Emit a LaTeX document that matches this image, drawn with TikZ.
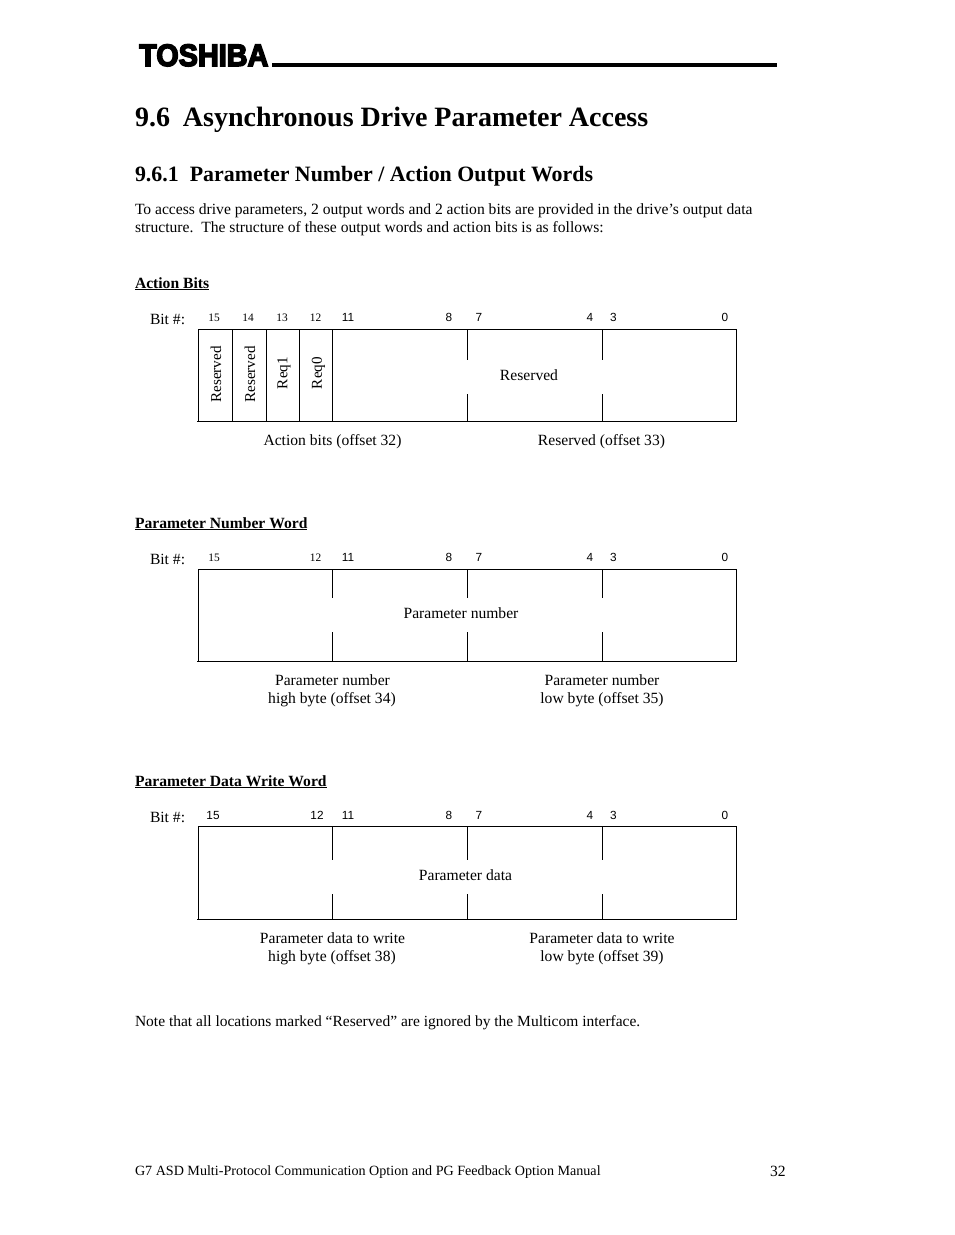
\documentclass[tikz,border=0pt]{standalone}
\usepackage{fontspec}
\setmainfont{Liberation Serif}
\newfontfamily\hv{Liberation Sans}
\newfontfamily\logofont[FakeBold=5]{Liberation Sans Bold}
\newcommand{\fs}[1]{\fontsize{#1}{#1}\selectfont}
\tikzset{
 txt/.style={inner sep=0,outer sep=0,anchor=base west,font=\fs{15.6}},
 ctr/.style={inner sep=0,outer sep=0,anchor=base,font=\fs{15.6}},
 bitn/.style={inner sep=0,outer sep=0,anchor=base,font=\hv\fs{11.8}},
 bits/.style={inner sep=0,outer sep=0,anchor=base,font=\fs{11.4}},
 vert/.style={inner sep=0,outer sep=0,anchor=west,rotate=90,font=\fs{15.1}},
 head/.style={inner sep=0,outer sep=0,anchor=base west,font=\bfseries\fs{15.6}},
 rl/.style={line width=1pt,line cap=butt},
}
\newcommand{\ulh}[3]{\node[head] (#1) at (135,#2) {\underline{#3}};}
\begin{document}
\begin{tikzpicture}[x=1pt,y=-1pt]
\useasboundingbox (0,0) rectangle (954,1235);
\node[inner sep=0,anchor=base west,font=\logofont\fs{31},xscale=0.93] (logo) at (139,66) {TOSHIBA};
\fill (272,63) rectangle (777,67);
\node[txt,font=\bfseries\fs{28}] (title) at (135,126) {9.6\hspace{13pt}Asynchronous Drive Parameter Access};
\node[txt,font=\bfseries\fs{21.9}] (sub) at (135,181) {9.6.1\hspace{11pt}Parameter Number / Action Output Words};
\node[txt] (p1) at (135,214) {To access drive parameters, 2 output words and 2 action bits are provided in the drive’s output data};
\node[txt] (p2) at (135,232) {structure.\ \ The structure of these output words and action bits is as follows:};
\ulh{h1}{288}{Action Bits}
\ulh{h2}{528}{Parameter Number Word}
\ulh{h3}{786}{Parameter Data Write Word}
% box 1
\node[txt] (b1) at (150,324) {Bit \#:};
\node[bits] at (214,321) {15};
\node[bits] at (248,321) {14};
\node[bits] at (282,321) {13};
\node[bits] at (315.5,321) {12};
\node[bitn] at (348,321) {11};
\node[bitn] at (449,321) {8};
\node[bitn] at (479,321) {7};
\node[bitn] at (590,321) {4};
\node[bitn] at (613.5,321) {3};
\node[bitn] at (725,321) {0};
\draw[rl] (198,329) -- (737,329);
\draw[rl] (197,421) -- (737,421);
\foreach \x in {198.5,232,266,299.5,332.5,736.5} \draw[rl] (\x,329) -- (\x,421);
\foreach \x in {467.5,602.5} {\draw[rl] (\x,329) -- (\x,360); \draw[rl] (\x,394) -- (\x,421);}
\node[vert] at (216,402.5) {Reserved};
\node[vert] at (250,402.5) {Reserved};
\node[vert] at (284,389) {Req1};
\node[vert] at (318.5,389) {Req0};
\node[ctr] at (529,380) {Reserved};
\node[ctr] at (332.5,445) {Action bits (offset 32)};
\node[ctr] at (601.5,445) {Reserved (offset 33)};
% box 2
\node[txt] (b2) at (150,564) {Bit \#:};
\node[bits] at (214,561) {15};
\node[bits] at (315.5,561) {12};
\node[bitn] at (348,561) {11};
\node[bitn] at (449,561) {8};
\node[bitn] at (479,561) {7};
\node[bitn] at (590,561) {4};
\node[bitn] at (613.5,561) {3};
\node[bitn] at (725,561) {0};
\draw[rl] (198,569) -- (737,569);
\draw[rl] (197,661) -- (737,661);
\foreach \x in {198.5,736.5} \draw[rl] (\x,569) -- (\x,661);
\foreach \x in {332.5,467.5,602.5} {\draw[rl] (\x,569) -- (\x,598); \draw[rl] (\x,632) -- (\x,661);}
\node[ctr] at (461,618) {Parameter number};
\node[ctr] at (332.5,685) {Parameter number};
\node[ctr] at (332,703) {high byte (offset 34)};
\node[ctr] at (602,685) {Parameter number};
\node[ctr] at (602,703) {low byte (offset 35)};
% box 3
\node[txt] (b3) at (150,822) {Bit \#:};
\node[bitn] at (213,819) {15};
\node[bitn] at (317,819) {12};
\node[bitn] at (348,819) {11};
\node[bitn] at (449,819) {8};
\node[bitn] at (479,819) {7};
\node[bitn] at (590,819) {4};
\node[bitn] at (613.5,819) {3};
\node[bitn] at (725,819) {0};
\draw[rl] (198,826.5) -- (737,826.5);
\draw[rl] (197,919) -- (737,919);
\foreach \x in {198.5,736.5} \draw[rl] (\x,826.5) -- (\x,919);
\foreach \x in {332.5,467.5,602.5} {\draw[rl] (\x,826.5) -- (\x,860); \draw[rl] (\x,894) -- (\x,919);}
\node[ctr] at (465.5,880) {Parameter data};
\node[ctr] at (332.5,943) {Parameter data to write};
\node[ctr] at (332,961) {high byte (offset 38)};
\node[ctr] at (602,943) {Parameter data to write};
\node[ctr] at (602,961) {low byte (offset 39)};
\node[txt,font=\fs{15.5}] (note) at (135,1026) {Note that all locations marked “Reserved” are ignored by the Multicom interface.};
\node[txt,font=\fs{14.1}] (foot) at (135,1175) {G7 ASD Multi-Protocol Communication Option and PG Feedback Option Manual};
\node[txt] (pg) at (770,1176) {32};
\end{tikzpicture}
\end{document}
